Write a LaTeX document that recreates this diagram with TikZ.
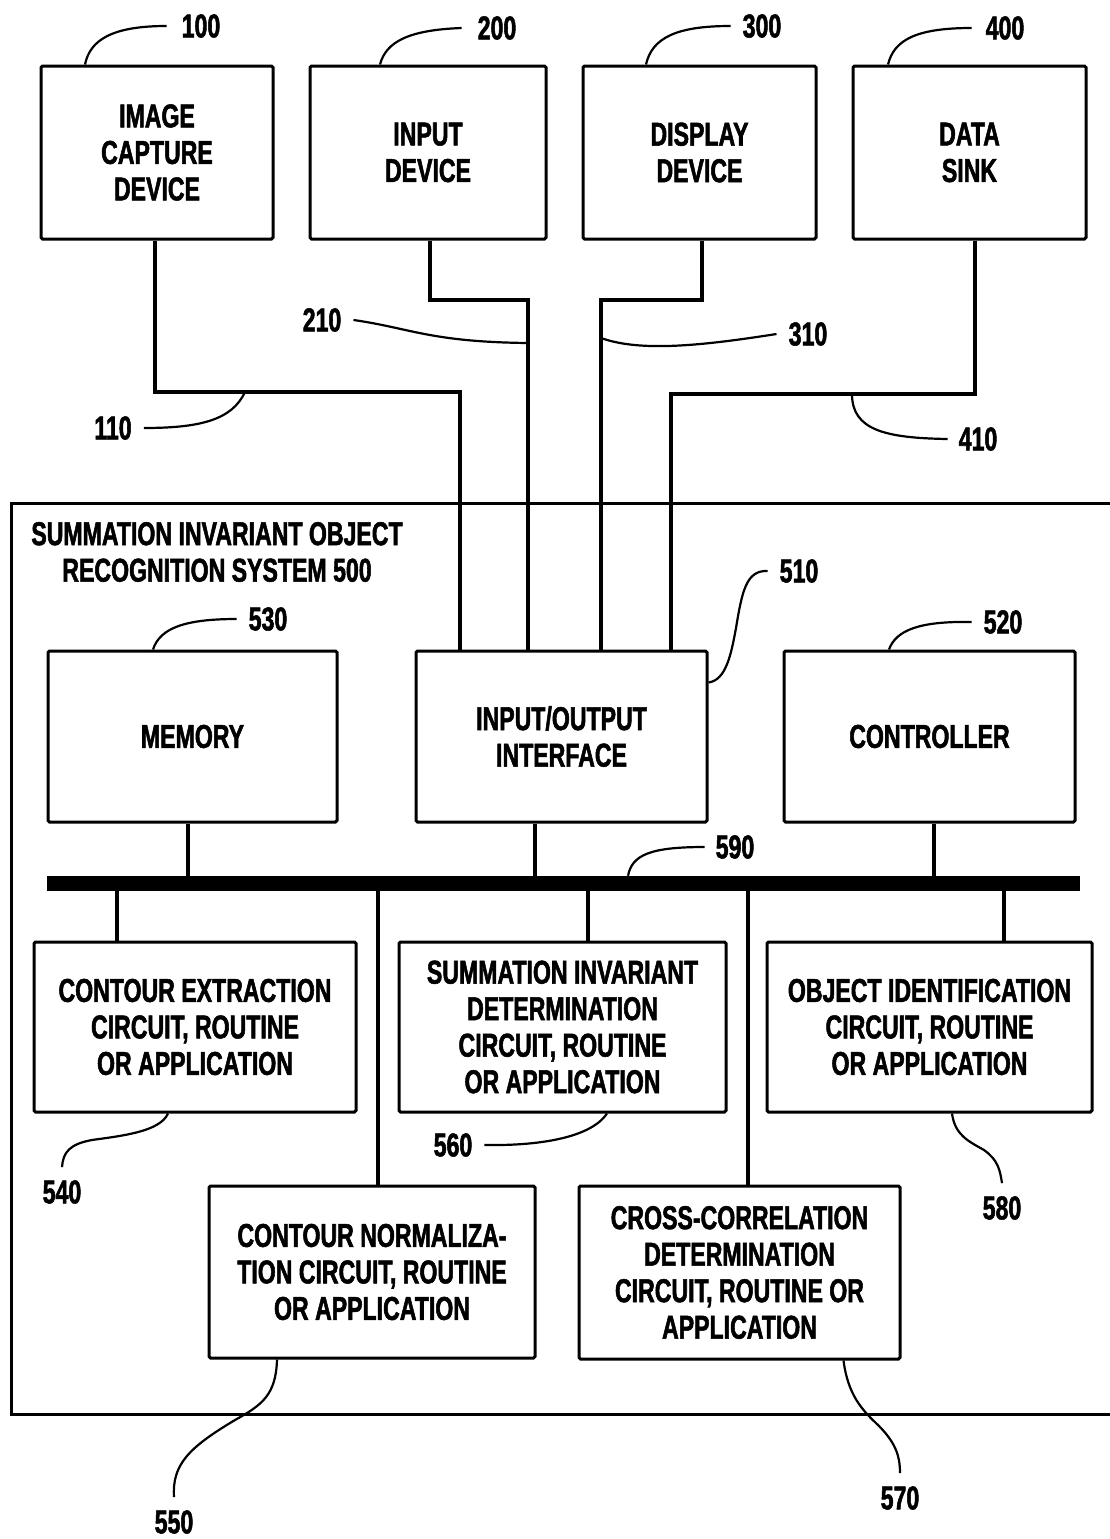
\documentclass[tikz,border=0pt]{standalone}
\usepackage{fontspec}
\newfontfamily\figfont{Liberation Sans}[FakeStretch=0.7, BoldFeatures={FakeBold=1.6}]
\begin{document}
\begin{tikzpicture}[x=1pt,y=-1pt]
\tikzset{
  blk/.style={draw, line width=3pt, rounded corners=1.5pt, align=center, inner sep=0pt,
    font=\figfont\bfseries\fontsize{33}{36.5}\selectfont},
  num/.style={inner sep=0pt, font=\figfont\bfseries\fontsize{33}{36.5}\selectfont},
  wire/.style={line width=4pt},
  lead/.style={line width=2.2pt},
}
\useasboundingbox (0,0) rectangle (1110,1539);

% peripheral devices
\node[blk, minimum width=232, minimum height=173] (cap)  at (157,152.5)   {IMAGE\\CAPTURE\\DEVICE};
\node[blk, minimum width=236, minimum height=173] (inp)  at (428,152.5)   {INPUT\\DEVICE};
\node[blk, minimum width=233, minimum height=173] (disp) at (699.5,152.5) {DISPLAY\\DEVICE};
\node[blk, minimum width=233, minimum height=173] (sink) at (969.5,152.5) {DATA\\SINK};

% system enclosure
\draw[line width=3pt] (1110,503) -- (11,503) -- (11,1414) -- (1110,1414);
\node[num, align=center] (sysname) at (217,552) {SUMMATION INVARIANT OBJECT\\RECOGNITION SYSTEM 500};

% internal blocks
\node[blk, minimum width=289, minimum height=171] (mem) at (192.5,736.5) {MEMORY};
\node[blk, minimum width=291, minimum height=171] (io)  at (561.5,736.5) {INPUT/OUTPUT\\INTERFACE};
\node[blk, minimum width=291, minimum height=171] (ctl) at (929.5,736.5) {CONTROLLER};

\node[fill, inner sep=0pt, minimum width=1033, minimum height=15] (bus) at (563.5,883.5) {};

\node[blk, minimum width=322, minimum height=170] (ce) at (195,1027)   {CONTOUR EXTRACTION\\CIRCUIT, ROUTINE\\OR APPLICATION};
\node[blk, minimum width=327, minimum height=170] (si) at (562.5,1027) {SUMMATION INVARIANT\\DETERMINATION\\CIRCUIT, ROUTINE\\OR APPLICATION};
\node[blk, minimum width=325, minimum height=170] (oi) at (929.5,1027) {OBJECT IDENTIFICATION\\CIRCUIT, ROUTINE\\OR APPLICATION};
\node[blk, minimum width=326, minimum height=172] (cn) at (372,1272)   {CONTOUR NORMALIZA-\\TION CIRCUIT, ROUTINE\\OR APPLICATION};
\node[blk, minimum width=321, minimum height=173] (cc) at (739.5,1272.5) {CROSS-CORRELATION\\DETERMINATION\\CIRCUIT, ROUTINE OR\\APPLICATION};

% reference numerals
\node[num] (l100) at (201,26)  {100};
\node[num] (l200) at (497,28)  {200};
\node[num] (l300) at (762,26)  {300};
\node[num] (l400) at (1005,28) {400};
\node[num] (l210) at (322,320) {210};
\node[num] (l310) at (808,334) {310};
\node[num] (l110) at (113,428) {110};
\node[num] (l410) at (978,439) {410};
\node[num] (l510) at (799,571) {510};
\node[num] (l530) at (268,619) {530};
\node[num] (l520) at (1003,622) {520};
\node[num] (l590) at (735,847) {590};
\node[num] (l540) at (62,1192) {540};
\node[num] (l560) at (453,1145) {560};
\node[num] (l580) at (1002,1208) {580};
\node[num] (l550) at (174,1522) {550};
\node[num] (l570) at (900,1498) {570};

% links from devices to the I/O interface
\draw[wire] ([xshift=-2]cap.south) |- (460,392) -- ([xshift=-101.5]io.north);
\draw[wire] ([xshift=2]inp.south) |- (528,300) -- ([xshift=-33.5]io.north);
\draw[wire] ([xshift=2.5]disp.south) |- (601,300) -- ([xshift=39.5]io.north);
\draw[wire] ([xshift=5.5]sink.south) |- (671,394) -- ([xshift=109.5]io.north);

% bus taps
\draw[wire] ([xshift=-4.5]mem.south) -- ([xshift=-4.5]mem.south |- bus.north);
\draw[wire] ([xshift=-26.5]io.south) -- ([xshift=-26.5]io.south |- bus.north);
\draw[wire] ([xshift=4.5]ctl.south) -- ([xshift=4.5]ctl.south |- bus.north);
\draw[wire] ([xshift=-78]ce.north |- bus.south) -- ([xshift=-78]ce.north);
\draw[wire] ([xshift=25.5]si.north |- bus.south) -- ([xshift=25.5]si.north);
\draw[wire] ([xshift=74.5]oi.north |- bus.south) -- ([xshift=74.5]oi.north);
\draw[wire] ([xshift=6]cn.north |- bus.south) -- ([xshift=6]cn.north);
\draw[wire] ([xshift=8.5]cc.north |- bus.south) -- ([xshift=8.5]cc.north);

% leader lines
\coordinate (t210) at (528,343);
\coordinate (t310) at (601,338);
\coordinate (t110) at (245,392);
\coordinate (t410) at (852,394);
\draw[lead] ([xshift=-72]cap.north) .. controls (90,40) and (112,26) .. ([xshift=-15]l100.west);
\draw[lead] ([xshift=-48]inp.north) .. controls (386,42) and (408,30) .. ([xshift=-16]l200.west);
\draw[lead] ([xshift=-53.5]disp.north) .. controls (652,38) and (676,26) .. ([xshift=-12]l300.west);
\draw[lead] ([xshift=-81.5]sink.north) .. controls (894,40) and (916,28) .. ([xshift=-14]l400.west);
\draw[lead] ([xshift=12]l210.east) .. controls (410,328) and (430,342) .. (t210);
\draw[lead] (t310) .. controls (640,352) and (700,346) .. ([xshift=-12]l310.west);
\draw[lead] (t110) .. controls (232,420) and (200,428) .. ([xshift=12]l110.east);
\draw[lead] (t410) .. controls (852,430) and (885,438) .. ([xshift=-11]l410.west);
\draw[lead] ([yshift=54]io.east) .. controls (726,680) and (731,655) .. (736,628)
  .. controls (742,592) and (746,570) .. ([xshift=-12]l510.west);
\draw[lead] ([xshift=-39.5]mem.north) .. controls (160,628) and (185,619) .. ([xshift=-12]l530.west);
\draw[lead] ([xshift=-40.5]ctl.north) .. controls (896,630) and (920,621) .. ([xshift=-12]l520.west);
\draw[lead] ([xshift=64.5]bus.north) .. controls (632,855) and (650,847) .. ([xshift=-11]l590.west);
\draw[lead] ([xshift=-27]ce.south) .. controls (160,1132) and (120,1136) .. (92,1140)
  .. controls (70,1144) and (63,1152) .. ([yshift=13]l540.north);
\draw[lead] ([xshift=12]l560.east) .. controls (545,1146) and (592,1136) .. ([xshift=44.5]si.south);
\draw[lead] ([xshift=22.5]oi.south) .. controls (955,1135) and (968,1141) .. (984,1150)
  .. controls (998,1160) and (1000,1170) .. ([yshift=13]l580.north);
\draw[lead] ([xshift=-95]cn.south) .. controls (276,1395) and (262,1405) .. (235,1420)
  .. controls (188,1448) and (172,1465) .. ([yshift=13]l550.north);
\draw[lead] ([xshift=104]cc.south) .. controls (848,1395) and (862,1410) .. (878,1425)
  .. controls (895,1442) and (900,1455) .. ([yshift=13]l570.north);
\end{tikzpicture}
\end{document}
